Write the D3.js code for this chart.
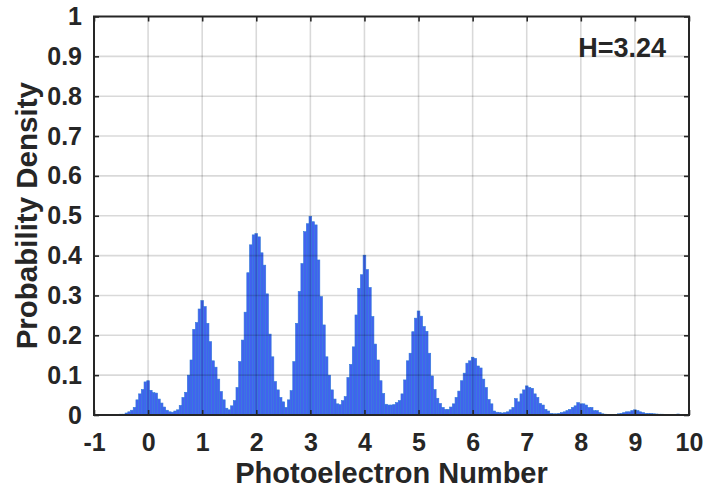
<!DOCTYPE html>
<html>
<head>
<meta charset="utf-8">
<script src="https://cdn.jsdelivr.net/npm/d3@7"></script>
<style>
  html, body { margin: 0; padding: 0; background: #fff; }
  svg { display: block; }
  text { font-family: "Liberation Sans", Arial, sans-serif; font-weight: bold; fill: #262626; }
</style>
</head>
<body>
<div id="chart"></div>
<script>
// Photoelectron-number histogram: probability density per 0.05-wide bin.
const firstBin = -0.55;
const binWidth = 0.05;
const density = [
  // -0.55 .. -0.05
  0.001, 0.002, 0.002, 0.005, 0.008, 0.012, 0.019, 0.038, 0.053, 0.064, 0.083,
  // 0.00 .. 0.95
  0.086, 0.062, 0.056, 0.055, 0.040, 0.030, 0.020, 0.012, 0.008, 0.007,
  0.010, 0.013, 0.024, 0.044, 0.057, 0.100, 0.138, 0.215, 0.232, 0.266,
  // 1.00 .. 1.95
  0.287, 0.272, 0.230, 0.184, 0.136, 0.120, 0.090, 0.059, 0.038, 0.017,
  0.013, 0.023, 0.036, 0.069, 0.134, 0.188, 0.258, 0.357, 0.427, 0.452,
  // 2.00 .. 2.95
  0.455, 0.447, 0.407, 0.376, 0.304, 0.203, 0.146, 0.084, 0.063, 0.044,
  0.033, 0.019, 0.038, 0.061, 0.134, 0.230, 0.310, 0.380, 0.460, 0.480,
  // 3.00 .. 3.95
  0.498, 0.485, 0.477, 0.389, 0.297, 0.226, 0.146, 0.100, 0.063, 0.040,
  0.028, 0.026, 0.036, 0.046, 0.094, 0.127, 0.171, 0.251, 0.318, 0.352,
  // 4.00 .. 4.95
  0.401, 0.365, 0.320, 0.247, 0.178, 0.138, 0.086, 0.054, 0.027, 0.025,
  0.025, 0.026, 0.031, 0.036, 0.053, 0.088, 0.136, 0.155, 0.209, 0.243,
  // 5.00 .. 5.95
  0.261, 0.248, 0.222, 0.210, 0.155, 0.098, 0.064, 0.042, 0.029, 0.019,
  0.014, 0.014, 0.020, 0.028, 0.044, 0.060, 0.086, 0.105, 0.130, 0.136,
  // 6.00 .. 6.95
  0.145, 0.142, 0.123, 0.118, 0.090, 0.069, 0.039, 0.028, 0.010, 0.007,
  0.006, 0.005, 0.006, 0.008, 0.013, 0.019, 0.041, 0.033, 0.053, 0.063,
  // 7.00 .. 7.95
  0.073, 0.069, 0.067, 0.053, 0.044, 0.029, 0.025, 0.014, 0.010, 0.004,
  0.003, 0.003, 0.004, 0.006, 0.008, 0.011, 0.014, 0.019, 0.023, 0.031,
  // 8.00 .. 8.95
  0.028, 0.028, 0.025, 0.019, 0.019, 0.011, 0.011, 0.006, 0.003, 0.002,
  0.0015, 0.001, 0.001, 0.0015, 0.003, 0.004, 0.006, 0.008, 0.008, 0.011,
  // 9.00 .. 9.95
  0.013, 0.011, 0.008, 0.006, 0.004, 0.004, 0.004, 0.003, 0.0025, 0.002,
  0.002, 0.0015, 0.0015, 0.001, 0.001, 0.001, 0.0025, 0.001, 0.0005, 0.0005
];
const xTicks = [-1, 0, 1, 2, 3, 4, 5, 6, 7, 8, 9, 10];
const yTicks = [0, 0.1, 0.2, 0.3, 0.4, 0.5, 0.6, 0.7, 0.8, 0.9, 1];
const xLabel = "Photoelectron Number";
const yLabel = "Probability Density";
const note = "H=3.24";

const width = 706, height = 488;
const margin = { left: 94, right: 17, top: 16.5, bottom: 73 };

const bins = density.map((v, i) => ({ x: firstBin + i * binWidth, y: v }));

const svg = d3.select("#chart").append("svg")
  .attr("width", width).attr("height", height);

const x = d3.scaleLinear().domain([-1, 10]).range([margin.left, width - margin.right]);
const y = d3.scaleLinear().domain([0, 1]).range([height - margin.bottom, margin.top]);

// bars
svg.append("g")
  .selectAll("rect")
  .data(bins)
  .join("rect")
  .attr("x", d => x(d.x - binWidth / 2))
  .attr("width", d => x(d.x + binWidth / 2) - x(d.x - binWidth / 2))
  .attr("y", d => y(d.y))
  .attr("height", d => y(0) - y(d.y))
  .attr("fill", "#4262f0")
  .attr("stroke", "#2f7ad8")
  .attr("stroke-width", 0.6);

// grid, drawn over the bars
const grid = svg.append("g").attr("stroke", "#000").attr("stroke-opacity", 0.15).attr("stroke-width", 1.6);
grid.selectAll("line.gx").data(xTicks.slice(1, -1)).join("line")
  .attr("x1", d => x(d)).attr("x2", d => x(d))
  .attr("y1", y(0)).attr("y2", y(1));
grid.selectAll("line.gy").data(yTicks.slice(1, -1)).join("line")
  .attr("x1", x(-1)).attr("x2", x(10))
  .attr("y1", d => y(d)).attr("y2", d => y(d));

// axes with inward ticks on all four sides
const tickLen = 5;
const axisStyle = g => {
  g.select(".domain").remove();
  g.selectAll(".tick line").attr("stroke", "#262626").attr("stroke-width", 1.6);
  g.selectAll(".tick text").style("font-size", "25px").attr("fill", "#262626");
};
svg.append("g").attr("transform", `translate(0,${y(0)})`)
  .call(d3.axisBottom(x).tickValues(xTicks).tickFormat(d => String(d))
    .tickSizeInner(-tickLen).tickSizeOuter(0).tickPadding(18))
  .call(axisStyle);
svg.append("g").attr("transform", `translate(0,${y(1)})`)
  .call(d3.axisTop(x).tickValues(xTicks).tickFormat("").tickSizeInner(-tickLen).tickSizeOuter(0))
  .call(axisStyle);
svg.append("g").attr("transform", `translate(${x(-1)},0)`)
  .call(d3.axisLeft(y).tickValues(yTicks).tickFormat(d => String(d))
    .tickSizeInner(-tickLen).tickSizeOuter(0).tickPadding(12))
  .call(axisStyle);
svg.append("g").attr("transform", `translate(${x(10)},0)`)
  .call(d3.axisRight(y).tickValues(yTicks).tickFormat("").tickSizeInner(-tickLen).tickSizeOuter(0))
  .call(axisStyle);

// box
svg.append("rect")
  .attr("x", x(-1)).attr("y", y(1))
  .attr("width", x(10) - x(-1)).attr("height", y(0) - y(1))
  .attr("fill", "none").attr("stroke", "#262626").attr("stroke-width", 2);

// titles
svg.append("text")
  .attr("x", (x(-1) + x(10)) / 2).attr("y", 483)
  .attr("text-anchor", "middle").style("font-size", "29px")
  .text(xLabel);
svg.append("text")
  .attr("transform", `translate(37,${(y(0) + y(1)) / 2}) rotate(-90)`)
  .attr("text-anchor", "middle").style("font-size", "29.5px")
  .text(yLabel);
svg.append("text")
  .attr("x", x(10) - 23).attr("y", 57)
  .attr("text-anchor", "end").style("font-size", "27px").attr("fill", "#000")
  .text(note);
</script>
</body>
</html>
